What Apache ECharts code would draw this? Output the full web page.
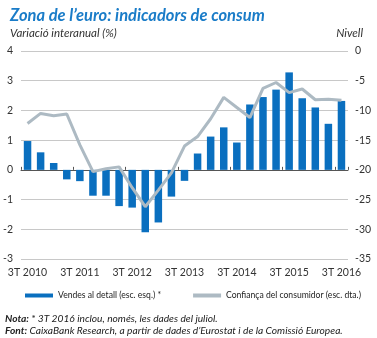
<!DOCTYPE html>
<html>
<head>
<meta charset="utf-8">
<script src="https://cdn.jsdelivr.net/npm/echarts@6/dist/echarts.min.js"></script>
<style>
  html, body { margin: 0; padding: 0; background: #fff; }
  #chart { width: 377px; height: 338px; }
</style>
</head>
<body>
<div id="chart"></div>
<script>
// Quarterly categories, 3T 2010 to 3T 2016
const quarters = [
  '3T 2010', '4T 2010', '1T 2011', '2T 2011', '3T 2011', '4T 2011', '1T 2012',
  '2T 2012', '3T 2012', '4T 2012', '1T 2013', '2T 2013', '3T 2013', '4T 2013',
  '1T 2014', '2T 2014', '3T 2014', '4T 2014', '1T 2015', '2T 2015', '3T 2015',
  '4T 2015', '1T 2016', '2T 2016', '3T 2016'
];

// Retail sales, year-on-year change (%), left scale
const retailSales = [
  0.97, 0.59, 0.23, -0.32, -0.38, -0.87, -0.87, -1.22, -1.27, -2.1,
  -1.77, -0.9, -0.37, 0.55, 1.12, 1.43, 0.92, 2.2, 2.45, 2.7,
  3.28, 2.41, 2.1, 1.55, 2.32
];

// Consumer confidence level, right scale
const consumerConfidence = [
  -12.2, -10.5, -10.9, -10.6, -15.8, -20.3, -19.8, -19.5, -23.0, -26.2,
  -23.4, -20.5, -16.0, -14.4, -11.4, -7.8, -9.5, -11.2, -6.3, -5.3,
  -7.0, -6.4, -8.2, -8.1, -8.3
];

// Tick values on both value axes
const leftTicks = { min: -3, max: 4, step: 1 };
const rightTicks = { min: -35, max: 0, step: 5 };

const FONT = 'Lato';
const BLUE = '#0a6fbf';
const GREY_LINE = '#adbac3';

const chart = echarts.init(document.getElementById('chart'), null, { renderer: 'canvas' });

chart.setOption({
  animation: false,
  backgroundColor: '#ffffff',
  textStyle: { fontFamily: FONT },
  title: [
    {
      text: 'Zona de l\u2019euro: indicadors de consum',
      left: 5, top: 2,
      textStyle: { fontFamily: FONT, fontSize: 16.5, fontWeight: 'bold', fontStyle: 'italic', color: '#1a7cc8' }
    },
    {
      text: 'Variació interanual (%)',
      left: 5, top: 22,
      textStyle: { fontFamily: FONT, fontSize: 11.5, fontWeight: 'normal', fontStyle: 'italic', color: '#333' }
    },
    {
      text: 'Nivell',
      right: 9, top: 22,
      textStyle: { fontFamily: FONT, fontSize: 11.5, fontWeight: 'normal', fontStyle: 'italic', color: '#333' }
    },
    {
      text: '{b|Nota:} * 3T 2016 inclou, només, les dades del juliol.\n{b|Font:} CaixaBank Research, a partir de dades d\u2019Eurostat i de la Comissió Europea.',
      left: 5, top: 312, padding: 0,
      textStyle: {
        fontFamily: FONT, fontSize: 10.2, fontStyle: 'italic', fontWeight: 'normal', color: '#222', lineHeight: 12.5,
        rich: { b: { fontFamily: FONT, fontSize: 10.2, fontStyle: 'italic', fontWeight: 'bold', color: '#222' } }
      }
    }
  ],
  legend: {
    left: 20, top: 286,
    itemWidth: 28, itemHeight: 4, itemGap: 32,
    textStyle: { fontFamily: FONT, fontSize: 8.6, color: '#222' },
    data: [
      { name: 'Vendes al detall (esc. esq.) *', icon: 'rect', itemStyle: { color: BLUE } },
      { name: 'Confiança del consumidor (esc. dta.)', icon: 'rect', itemStyle: { color: GREY_LINE } }
    ]
  },
  grid: { left: 21, right: 29, top: 51, bottom: 79, containLabel: false },
  xAxis: [
    {
      type: 'category',
      data: quarters,
      position: 'bottom',
      axisLine: { show: false, onZero: false },
      axisTick: { show: false },
      axisLabel: { interval: 3, margin: 8, fontFamily: FONT, fontSize: 10.5, color: '#333' },
      splitLine: { show: false }
    },
    {
      type: 'category',
      data: quarters,
      position: 'bottom',
      axisLine: { show: true, onZero: true, onZeroAxisIndex: 0, lineStyle: { color: '#555', width: 1 } },
      axisTick: { show: true, inside: true, interval: 3, length: 3, lineStyle: { color: '#555' } },
      axisLabel: { show: false },
      splitLine: { show: false }
    }
  ],
  yAxis: [
    {
      type: 'value',
      min: leftTicks.min, max: leftTicks.max, interval: leftTicks.step,
      axisLine: { show: false }, axisTick: { show: false },
      axisLabel: { margin: 8, fontFamily: FONT, fontSize: 10.5, color: '#333' },
      splitLine: { lineStyle: { color: '#c8c8c8', width: 1 } }
    },
    {
      type: 'value',
      min: rightTicks.min, max: rightTicks.max, interval: rightTicks.step,
      axisLine: { show: false }, axisTick: { show: false },
      axisLabel: { margin: 7, fontFamily: FONT, fontSize: 10.5, color: '#333' },
      splitLine: { show: false }
    }
  ],
  series: [
    {
      name: 'Vendes al detall (esc. esq.) *',
      type: 'bar',
      xAxisIndex: 0, yAxisIndex: 0,
      data: retailSales,
      barWidth: 7.5,
      itemStyle: { color: BLUE },
      z: 2
    },
    {
      name: 'Confiança del consumidor (esc. dta.)',
      type: 'line',
      xAxisIndex: 0, yAxisIndex: 1,
      data: consumerConfidence,
      symbol: 'none',
      lineStyle: { color: GREY_LINE, width: 3 },
      itemStyle: { color: GREY_LINE },
      z: 3
    }
  ]
});
</script>
</body>
</html>
